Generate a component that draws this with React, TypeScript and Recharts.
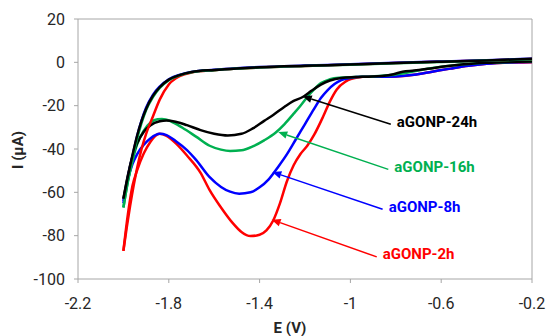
import React from 'react'
import { LineChart, Line, XAxis, YAxis, ReferenceLine } from 'recharts'

// potential (V) ticks and current (µA) ticks
const eTicks = [-2.2, -1.8, -1.4, -1, -0.6, -0.2]
const iTicks = [-100, -80, -60, -40, -20, 0, 20]

// [E, I] pairs, forward (upper) branch of each scan
const upper2h = [[-2.0, -87], [-1.985, -76], [-1.97, -66], [-1.955, -57], [-1.94, -49], [-1.92, -40], [-1.9, -33], [-1.87, -25], [-1.84, -17.2], [-1.8, -10.2], [-1.75, -6.3], [-1.7, -4.7], [-1.6, -3.6], [-1.5, -2.9], [-1.4, -2.4], [-1.2, -1.7], [-1.0, -1.0], [-0.8, -0.3], [-0.6, 0.3], [-0.4, 0.9], [-0.2, 1.5]]
const upper8h = [[-2.0, -65], [-1.985, -56], [-1.97, -48], [-1.955, -41], [-1.94, -34.3], [-1.92, -26.8], [-1.9, -21], [-1.87, -15], [-1.84, -11.2], [-1.8, -7.8], [-1.75, -5.7], [-1.7, -4.4], [-1.6, -3.4], [-1.5, -2.7], [-1.4, -2.2], [-1.2, -1.5], [-1.0, -0.9], [-0.8, -0.2], [-0.6, 0.4], [-0.4, 1.0], [-0.2, 1.7]]
const upper16h = [[-2.0, -67], [-1.985, -57.5], [-1.97, -49.5], [-1.955, -42.5], [-1.94, -35.5], [-1.92, -28], [-1.9, -22], [-1.87, -16], [-1.84, -11.8], [-1.8, -8.2], [-1.75, -5.9], [-1.7, -4.6], [-1.6, -3.6], [-1.5, -2.9], [-1.4, -2.4], [-1.2, -1.7], [-1.0, -1.1], [-0.8, -0.4], [-0.6, 0.2], [-0.4, 0.8], [-0.2, 1.4]]
const upper24h = [[-2.0, -63], [-1.985, -55], [-1.97, -47.5], [-1.955, -40.5], [-1.94, -34], [-1.92, -27], [-1.9, -21.5], [-1.87, -15.5], [-1.84, -11.5], [-1.8, -8], [-1.75, -5.8], [-1.7, -4.5], [-1.6, -3.5], [-1.5, -2.8], [-1.4, -2.3], [-1.2, -1.6], [-1.0, -1.0], [-0.8, -0.3], [-0.6, 0.3], [-0.4, 0.9], [-0.2, 1.6]]

// [E, I] pairs, return (lower) branch with the reduction peak
const lower2h = [[-2.0, -87], [-1.98, -70], [-1.96, -57], [-1.94, -50], [-1.91, -42], [-1.88, -36.5], [-1.86, -34], [-1.84, -33], [-1.81, -34], [-1.77, -37.3], [-1.72, -43], [-1.66, -51], [-1.62, -59], [-1.57, -67], [-1.52, -74], [-1.48, -78.3], [-1.44, -80.2], [-1.4, -79.6], [-1.37, -77.6], [-1.34, -73], [-1.31, -65], [-1.28, -55], [-1.25, -47.5], [-1.22, -42.3], [-1.19, -38.5], [-1.16, -33.5], [-1.12, -25], [-1.09, -18], [-1.06, -12.5], [-1.02, -8.8], [-0.97, -7], [-0.92, -6.5], [-0.86, -6.6], [-0.8, -6.5], [-0.72, -5.7], [-0.64, -4.3], [-0.56, -2.9], [-0.48, -1.6], [-0.4, -0.7], [-0.3, -0.1], [-0.2, 0]]
const lower8h = [[-2.0, -64], [-1.98, -54], [-1.96, -47], [-1.94, -42.5], [-1.91, -38], [-1.88, -35], [-1.84, -33], [-1.81, -33.6], [-1.77, -36.3], [-1.72, -40.5], [-1.68, -45], [-1.62, -53], [-1.57, -57.5], [-1.53, -59.7], [-1.49, -60.6], [-1.44, -60], [-1.4, -57.7], [-1.36, -54], [-1.32, -48.5], [-1.28, -42.5], [-1.24, -35.5], [-1.2, -28.5], [-1.16, -21.5], [-1.13, -16.5], [-1.1, -12.8], [-1.07, -10], [-1.04, -8.2], [-1.0, -7.2], [-0.95, -6.7], [-0.88, -6.7], [-0.8, -6.5], [-0.72, -5.7], [-0.64, -4.3], [-0.56, -2.9], [-0.48, -1.6], [-0.4, -0.7], [-0.3, -0.1], [-0.2, 0.1]]
const lower16h = [[-2.0, -67], [-1.98, -55], [-1.96, -45.5], [-1.94, -38], [-1.91, -31.5], [-1.88, -27.8], [-1.85, -26.3], [-1.83, -26.2], [-1.79, -27.3], [-1.74, -30.2], [-1.68, -34.3], [-1.62, -38.5], [-1.57, -40.3], [-1.53, -40.9], [-1.48, -40.6], [-1.43, -38.8], [-1.38, -36], [-1.33, -32.5], [-1.29, -28.5], [-1.25, -23.7], [-1.22, -20], [-1.19, -16], [-1.16, -12.5], [-1.13, -9.6], [-1.09, -7.8], [-1.05, -7.1], [-0.98, -6.8], [-0.9, -6.5], [-0.82, -5.9], [-0.74, -4.6], [-0.66, -3], [-0.58, -1.8], [-0.5, -0.9], [-0.4, -0.2], [-0.3, 0.2], [-0.2, 0.4]]
const lower24h = [[-2.0, -63], [-1.98, -52], [-1.96, -43.5], [-1.94, -37.5], [-1.91, -32], [-1.88, -29], [-1.84, -27.2], [-1.81, -26.8], [-1.77, -27.4], [-1.72, -29], [-1.66, -31.3], [-1.6, -33], [-1.54, -33.8], [-1.48, -33], [-1.43, -30.5], [-1.38, -27], [-1.34, -24.3], [-1.29, -20.5], [-1.25, -17.8], [-1.21, -16], [-1.17, -13], [-1.13, -10.3], [-1.09, -8.4], [-1.04, -7.2], [-0.98, -6.8], [-0.92, -6.6], [-0.86, -6.3], [-0.81, -5.5], [-0.77, -4.3], [-0.72, -3.8], [-0.66, -3], [-0.58, -1.8], [-0.5, -0.9], [-0.4, -0.2], [-0.3, 0.2], [-0.2, 0.4]]

// annotation arrows: label text, tail [E, I], head [E, I]
const noteLabels = ['aGONP-24h', 'aGONP-16h', 'aGONP-8h', 'aGONP-2h']
const noteTails = [[-0.822, -28.6], [-0.833, -49.4], [-0.858, -67.8], [-0.884, -89.8]]
const noteHeads = [[-1.21, -15.7], [-1.318, -32.2], [-1.344, -50.6], [-1.347, -72.6]]

const RED = '#ff0000'
const BLUE = '#0000ff'
const GREEN = '#00b050'
const BLACK = '#000000'
const noteColors = [BLACK, GREEN, BLUE, RED]

const AXIS = '#a6a6a6'
const FONT = 'Roboto, "Liberation Sans", sans-serif'

const toPts = (pairs: number[][]) => pairs.map(([E, I]) => ({ E, I }))

const series = [
  { key: '2h', color: RED, upper: upper2h, lower: lower2h },
  { key: '8h', color: BLUE, upper: upper8h, lower: lower8h },
  { key: '16h', color: GREEN, upper: upper16h, lower: lower16h },
  { key: '24h', color: BLACK, upper: upper24h, lower: lower24h }
]

// arrow from tail (x1,y1) to head (x2,y2), label at the tail
const arrowShape = (color: string, text: string) => (props: any) => {
  const { x1, y1, x2, y2 } = props
  const a = Math.atan2(y2 - y1, x2 - x1)
  const len = 9
  const half = 3.8
  const bx = x2 - len * Math.cos(a)
  const by = y2 - len * Math.sin(a)
  const p1 = `${x2},${y2}`
  const p2 = `${bx - half * Math.sin(a)},${by + half * Math.cos(a)}`
  const p3 = `${bx + half * Math.sin(a)},${by - half * Math.cos(a)}`
  return (
    <g>
      <line x1={x1} y1={y1} x2={bx} y2={by} stroke={color} strokeWidth={1.5} />
      <polygon points={`${p1} ${p2} ${p3}`} fill={color} />
      <text
        x={x1 + 6}
        y={y1 - 2.5}
        fill={color}
        fontSize={15}
        fontWeight="bold"
        fontFamily={FONT}
        dominantBaseline="central"
      >
        {text}
      </text>
    </g>
  )
}

export default function App() {
  return (
    <div style={{ position: 'absolute', left: 0, top: 0, fontFamily: FONT, background: '#fff' }}>
      <LineChart width={547} height={336} margin={{ top: 19, right: 15, bottom: 0, left: 0 }}>
        <XAxis
          type="number"
          dataKey="E"
          domain={[-2.2, -0.2]}
          ticks={eTicks}
          allowDataOverflow
          stroke={AXIS}
          tickSize={4}
          tickMargin={15}
          height={57}
          tick={{ fill: '#262626', fontSize: 16, fontFamily: FONT }}
          label={{
            content: () => (
              <text x={290} y={333} textAnchor="middle" fontSize={15} fontWeight="bold" fill="#262626" fontFamily={FONT}>
                E (V)
              </text>
            )
          }}
        />
        <YAxis
          type="number"
          domain={[-100, 20]}
          ticks={iTicks}
          allowDataOverflow
          stroke={AXIS}
          tickSize={4}
          tickMargin={9}
          width={78}
          tick={{ fill: '#262626', fontSize: 16, fontFamily: FONT }}
          label={{
            content: () => (
              <text
                x={18}
                y={150}
                transform="rotate(-90 18 150)"
                textAnchor="middle"
                dominantBaseline="central"
                fontSize={15}
                fontWeight="bold"
                fill="#262626"
                fontFamily={FONT}
              >
                I (µA)
              </text>
            )
          }}
        />
        {/* plot frame, top and right */}
        <ReferenceLine y={20} stroke={AXIS} strokeWidth={1} />
        <ReferenceLine x={-0.2} stroke={AXIS} strokeWidth={1} />

        {series.map((s) => (
          <Line
            key={`lo-${s.key}`}
            data={toPts(s.lower)}
            dataKey="I"
            type="monotone"
            stroke={s.color}
            strokeWidth={2.5}
            dot={false}
            activeDot={false}
            isAnimationActive={false}
          />
        ))}
        {series.map((s) => (
          <Line
            key={`up-${s.key}`}
            data={toPts(s.upper)}
            dataKey="I"
            type="monotone"
            stroke={s.color}
            strokeWidth={2.5}
            dot={false}
            activeDot={false}
            isAnimationActive={false}
          />
        ))}

        {noteLabels.map((t, i) => (
          <ReferenceLine
            key={t}
            segment={[
              { x: noteTails[i][0], y: noteTails[i][1] },
              { x: noteHeads[i][0], y: noteHeads[i][1] }
            ]}
            ifOverflow="visible"
            shape={arrowShape(noteColors[i], t)}
          />
        ))}
      </LineChart>
    </div>
  )
}
